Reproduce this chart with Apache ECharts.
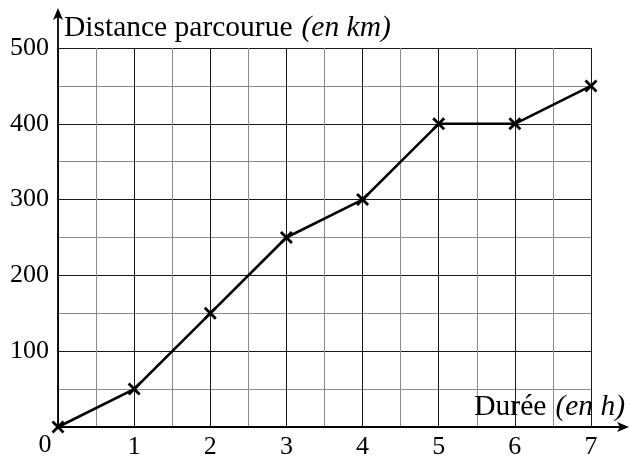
<!DOCTYPE html>
<html>
<head>
<meta charset="utf-8">
<script src="https://cdn.jsdelivr.net/npm/echarts@6/dist/echarts.min.js"></script>
<style>
html,body{margin:0;padding:0;background:#fff;}
#chart{width:629px;height:457px;}
</style>
</head>
<body>
<div id="chart"></div>
<script>
const durations = [0, 1, 2, 3, 4, 5, 6, 7];
const distances = [0, 50, 150, 250, 300, 400, 400, 450];
const xTickLabels = ['0', '1', '2', '3', '4', '5', '6', '7'];
const yTickLabels = ['0', '100', '200', '300', '400', '500'];
const yAxisTitle = 'Distance parcourue';
const yAxisUnit = '(en km)';
const xAxisTitle = 'Durée';
const xAxisUnit = '(en h)';

const FONT = 'Liberation Serif, serif';
const FS = 26;
const TFS = 29.5;

const chart = echarts.init(document.getElementById('chart'), null, {renderer: 'canvas'});
const points = durations.map((d, i) => [d, distances[i]]);

const majorLine = {show: true, lineStyle: {color: '#1a1a1a', width: 1}};
const minorLine = {show: true, lineStyle: {color: '#8a8a8a', width: 1}};
const richText = {
  a: {fontFamily: FONT, fontSize: TFS, color: '#000'},
  b: {fontFamily: FONT, fontSize: TFS, fontStyle: 'italic', color: '#000', padding: [0, 0, 0, 9]}
};

chart.setOption({
  animation: false,
  backgroundColor: '#fff',
  textStyle: {fontFamily: FONT},
  grid: {left: 58, right: 38, top: 48, bottom: 30, containLabel: false, outerBoundsMode: 'none'},
  xAxis: {
    type: 'value', min: 0, max: 7, interval: 1,
    axisLine: {show: false}, axisTick: {show: false},
    splitLine: majorLine,
    minorTick: {show: false, splitNumber: 2},
    minorSplitLine: minorLine,
    axisLabel: {
      fontFamily: FONT, fontSize: FS, color: '#000', margin: 7,
      formatter: v => (v === 0 ? '' : xTickLabels[v])
    },
    name: '{a|' + xAxisTitle + '}{b|' + xAxisUnit + '}',
    nameLocation: 'end', nameGap: 34,
    nameTextStyle: {align: 'right', verticalAlign: 'bottom', padding: [0, 0, 5, 0], rich: richText}
  },
  yAxis: {
    type: 'value', min: 0, max: 500, interval: 100,
    axisLine: {show: false}, axisTick: {show: false},
    splitLine: majorLine,
    minorTick: {show: false, splitNumber: 2},
    minorSplitLine: minorLine,
    axisLabel: {
      fontFamily: FONT, fontSize: FS, color: '#000', margin: 9,
      formatter: v => (v === 0 ? '' : yTickLabels[v / 100])
    },
    name: '{a|' + yAxisTitle + '}{b|' + yAxisUnit + '}',
    nameLocation: 'end', nameGap: 5,
    nameTextStyle: {align: 'left', verticalAlign: 'bottom', padding: [0, 0, 0, 6], rich: richText}
  },
  series: [{
    type: 'line',
    data: points,
    lineStyle: {color: '#000', width: 2.6},
    symbol: 'path://M0,0L10,10M10,0L0,10',
    symbolSize: 11,
    itemStyle: {color: 'rgba(0,0,0,0)', borderColor: '#000', borderWidth: 2.8},
    z: 5
  }]
});

const o = chart.convertToPixel({gridIndex: 0}, [0, 0]);
const xe = chart.convertToPixel({gridIndex: 0}, [7, 0]);
const ye = chart.convertToPixel({gridIndex: 0}, [0, 500]);
const axStyle = {stroke: '#000', lineWidth: 1.8};
chart.setOption({
  graphic: [
    {type: 'line', shape: {x1: o[0], y1: o[1], x2: xe[0] + 30, y2: o[1]}, style: axStyle, z: 10},
    {type: 'line', shape: {x1: o[0], y1: o[1], x2: o[0], y2: ye[1] - 32}, style: axStyle, z: 10},
    {type: 'polygon', shape: {points: [[xe[0] + 38, o[1]], [xe[0] + 26, o[1] - 5], [xe[0] + 29, o[1]], [xe[0] + 26, o[1] + 5]]}, style: {fill: '#000'}, z: 10},
    {type: 'polygon', shape: {points: [[o[0], ye[1] - 40], [o[0] - 5, ye[1] - 28], [o[0], ye[1] - 31], [o[0] + 5, ye[1] - 28]]}, style: {fill: '#000'}, z: 10},
    {type: 'text', x: o[0] - 13, y: o[1] + 18, style: {text: xTickLabels[0], font: FS + 'px ' + FONT, fill: '#000', align: 'center', verticalAlign: 'middle'}, z: 10}
  ]
});
</script>
</body>
</html>
